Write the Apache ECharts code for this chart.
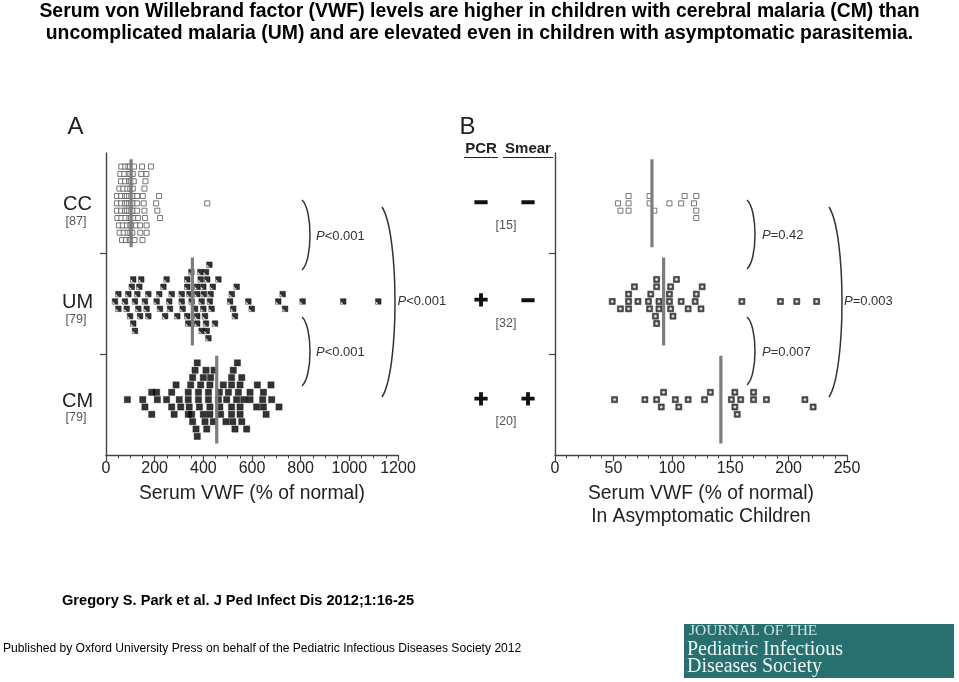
<!DOCTYPE html>
<html><head><meta charset="utf-8">
<script src="https://cdn.jsdelivr.net/npm/echarts@6/dist/echarts.min.js"></script>
<style>html,body{margin:0;padding:0;background:#fff}#c{width:959px;height:682px}</style>
</head><body><div id="c"></div>
<script>
// ---------- DATA ----------
const groupsA = ['CC', 'UM', 'CM'];
const countsA = ['[87]', '[79]', '[79]'];
const pcrB = ['−', '+', '+'];
const smearB = ['−', '−', '+'];
const countsB = ['[15]', '[32]', '[20]'];
const pA = ['<0.001', '<0.001', '<0.001'];   // CC-UM, UM-CM, CC-CM
const pB = ['=0.42', '=0.007', '=0.003'];
const medA = [103, 355, 455];
const medB = [83, 93, 142];
// beeswarm rows, listed top row to bottom row (centre row in the middle)
const aCC = [
  [63, 79, 92, 99, 115, 148, 185],
  [59, 75, 93, 100, 110, 145, 166],
  [62, 78, 95, 102, 114, 162],
  [55, 71, 88, 100, 110, 158],
  [45, 62, 78, 86, 95, 104, 111, 128, 151, 218],
  [45, 62, 78, 86, 95, 103, 111, 128, 155, 206, 416],
  [45, 62, 78, 86, 95, 104, 111, 128, 158, 211],
  [47, 63, 80, 96, 103, 115, 131, 160, 222],
  [53, 69, 86, 100, 105, 123, 140, 167],
  [56, 73, 89, 100, 108, 141, 167],
  [66, 82, 97, 101, 117, 150]
];
const aUM = [
  [425],
  [351, 388, 411],
  [112, 145, 249, 334, 389, 416, 462],
  [106, 137, 236, 334, 375, 400, 439, 537],
  [51, 92, 129, 174, 219, 270, 311, 343, 375, 402, 430, 517, 726],
  [37, 78, 119, 160, 208, 260, 311, 352, 393, 427, 510, 585, 708, 808, 975, 1119],
  [51, 85, 133, 167, 222, 263, 315, 366, 400, 434, 523, 599, 736],
  [99, 140, 174, 243, 293, 334, 375, 407, 530],
  [112, 338, 375, 411, 448],
  [119, 393, 414],
  [421]
];
const aCM = [
  [375, 540],
  [366, 411, 444, 523],
  [356, 400, 430, 516, 558],
  [288, 348, 389, 427, 482, 516, 551, 622, 678],
  [188, 208, 270, 338, 380, 421, 466, 503, 544, 592, 647],
  [88, 151, 211, 249, 301, 338, 380, 421, 462, 496, 537, 566, 592, 644, 681],
  [160, 270, 307, 342, 384, 427, 468, 516, 551, 619, 647, 711],
  [188, 280, 338, 352, 400, 427, 471, 516, 551, 658],
  [356, 407, 441, 493, 521, 558],
  [370, 414, 530, 578],
  [375]
];
const bCC = [
  [],
  [63, 81, 111, 121],
  [54, 63, 81, 98, 108, 119],
  [56, 63, 85, 121],
  [121]
];
const bUM = [
  [87, 104],
  [68, 87, 99, 126],
  [63, 82, 98, 121],
  [49, 63, 71, 80, 89, 98, 108, 120, 160, 193, 207, 224],
  [56, 63, 81, 89, 99, 114, 125],
  [86, 101],
  [87]
];
const bCM = [
  [],
  [93, 133, 154, 170],
  [51, 77, 87, 103, 114, 128, 151, 159, 170, 181, 214],
  [91, 106, 154, 221],
  [156]
];

// ---------- LAYOUT / STYLE ----------
const F = '"Liberation Sans", Arial, Helvetica, sans-serif';
const SERIF = '"Liberation Serif", "DejaVu Serif", serif';
const ROW = 0.073, HALF = 0.437;
const CENTERS = [2.5, 1.525, 0.55];

function swarm(rows, c) {
  const mid = (rows.length - 1) / 2, out = [];
  rows.forEach((r, i) => r.forEach(v => out.push([v, c - (i - mid) * ROW])));
  return out;
}
const umFill = new echarts.graphic.LinearGradient(0, 1, 1, 0, [
  {offset: 0, color: '#e8e8e8'}, {offset: 0.26, color: '#e8e8e8'},
  {offset: 0.34, color: '#000'}, {offset: 1, color: '#000'}]);
const bFill = new echarts.graphic.RadialGradient(0.5, 0.5, 0.5, [
  {offset: 0, color: '#f4f4f4'}, {offset: 0.3, color: '#bbb'},
  {offset: 0.55, color: '#222'}, {offset: 1, color: '#222'}]);

function scat(g, data, size, style) {
  return {type: 'scatter', xAxisIndex: g, yAxisIndex: g, data, symbol: 'rect',
    symbolSize: size, itemStyle: style, z: 3, silent: true};
}
function med(g, m, c) {
  return {type: 'line', xAxisIndex: g, yAxisIndex: g, data: [[m, c - HALF], [m, c + HALF]],
    symbol: 'none', lineStyle: {color: '#7d7d7d', width: 3.2}, z: 5, silent: true};
}
const axLine = {show: true, lineStyle: {color: '#444', width: 1.4}};
function xAx(g, max, interval, minorSplit, name) {
  return {type: 'value', gridIndex: g, min: 0, max, interval,
    axisLine: axLine, axisTick: {show: true, length: 6, lineStyle: {color: '#444', width: 1.2}},
    minorTick: {show: true, splitNumber: minorSplit, length: 3.5, lineStyle: {color: '#444', width: 1}},
    splitLine: {show: false}, minorSplitLine: {show: false},
    axisLabel: {fontSize: 16, color: '#222', fontFamily: F, margin: 6, formatter: v => String(v)},
    name, nameLocation: 'middle', nameGap: 27,
    nameTextStyle: {fontSize: 19.3, color: '#222', fontFamily: F, lineHeight: 23, verticalAlign: 'top'}};
}
function yAx(g) {
  return {type: 'value', gridIndex: g, min: 0, max: 3, interval: 1,
    axisLine: axLine, axisTick: {show: true, length: 6, customValues: [1, 2], lineStyle: {color: '#444', width: 1.2}},
    axisLabel: {show: false}, splitLine: {show: false}};
}

// graphic helpers
function T(x, y, text, o) {
  return {type: 'text', x, y, silent: true, style: Object.assign({text, fontFamily: F, fill: '#222',
    align: 'left', verticalAlign: 'middle'}, o || {})};
}
function bracket(x0, y0, y1, bulge) {
  const cx = x0 + bulge / 0.75, h = y1 - y0;
  return {type: 'bezierCurve', silent: true,
    shape: {x1: x0, y1: y0, x2: x0, y2: y1, cpx1: cx, cpy1: y0 + 0.14 * h, cpx2: cx, cpy2: y1 - 0.14 * h},
    style: {stroke: '#333', lineWidth: 1.5, fill: null}};
}
function pText(x, y, s) {
  return {type: 'text', x, y, silent: true, style: {text: '{i|P}{n|' + s + '}', align: 'left', verticalAlign: 'middle',
    rich: {i: {fontStyle: 'italic', fontSize: 13, fontFamily: F, fill: '#333'}, n: {fontSize: 13, fontFamily: F, fill: '#333'}}}};
}

const labY = [204, 302, 401];
const cntY = [222, 320, 418];
const graphics = [
  T(479.5, 12, 'Serum von Willebrand factor (VWF) levels are higher in children with cerebral malaria (CM) than', {align: 'center', fontWeight: 'bold', fontSize: 19.4, fill: '#000'}),
  T(479.5, 34, 'uncomplicated malaria (UM) and are elevated even in children with asymptomatic parasitemia.', {align: 'center', fontWeight: 'bold', fontSize: 19.4, fill: '#000'}),
  T(75.5, 127, 'A', {align: 'center', fontSize: 24}),
  T(467.5, 127, 'B', {align: 'center', fontSize: 24}),
  T(481, 149, 'PCR', {align: 'center', fontSize: 15, fontWeight: 'bold'}),
  T(528, 149, 'Smear', {align: 'center', fontSize: 15, fontWeight: 'bold'}),
  {type: 'line', silent: true, shape: {x1: 464, y1: 157.5, x2: 498, y2: 157.5}, style: {stroke: '#222', lineWidth: 1.2}},
  {type: 'line', silent: true, shape: {x1: 503, y1: 157.5, x2: 553, y2: 157.5}, style: {stroke: '#222', lineWidth: 1.2}},
  T(62, 601, 'Gregory S. Park et al. J Ped Infect Dis 2012;1:16-25', {fontWeight: 'bold', fontSize: 14.6, fill: '#000'}),
  T(3, 649, 'Published by Oxford University Press on behalf of the Pediatric Infectious Diseases Society 2012', {fontSize: 12.1, fill: '#000'}),
  {type: 'rect', silent: true, shape: {x: 684, y: 624, width: 270, height: 54}, style: {fill: '#27706f'}},
  T(689, 631, 'JOURNAL OF THE', {fontFamily: SERIF, fontSize: 15.5, fill: '#cde3e2'}),
  T(687, 650, 'Pediatric Infectious', {fontFamily: SERIF, fontSize: 20, fill: '#eef7f6'}),
  T(687, 667, 'Diseases Society', {fontFamily: SERIF, fontSize: 20, fill: '#eef7f6'}),
  bracket(302, 200, 270, 8), pText(316, 236, pA[0]),
  bracket(302, 317, 386, 8), pText(316, 352, pA[1]),
  bracket(382, 207, 397, 13), pText(397.5, 301, pA[2]),
  bracket(747, 200, 269, 8), pText(762, 235, pB[0]),
  bracket(747, 317, 385, 8), pText(762, 352, pB[1]),
  bracket(829, 207, 397, 13), pText(844, 301, pB[2])
];
for (let i = 0; i < 3; i++) {
  graphics.push(T(77.5, labY[i], groupsA[i], {align: 'center', fontSize: 20}));
  graphics.push(T(76, cntY[i], countsA[i], {align: 'center', fontSize: 12.5, fill: '#555'}));
  const sy = labY[i] - 1;
  graphics.push(T(481, sy, pcrB[i], {align: 'center', fontSize: 24, fontWeight: 'bold', fill: '#111', stroke: '#111', lineWidth: 1.2}));
  graphics.push(T(528, sy, smearB[i], {align: 'center', fontSize: 24, fontWeight: 'bold', fill: '#111', stroke: '#111', lineWidth: 1.2}));
  graphics.push(T(506, cntY[i] + 4, countsB[i], {align: 'center', fontSize: 12.5, fill: '#555'}));
}

const series = [
  scat(0, swarm(aCC, CENTERS[0]), 5, {color: '#fff', borderColor: '#555', borderWidth: 1}),
  scat(0, swarm(aUM, CENTERS[1]), 5.5, {color: umFill, borderColor: '#000', borderWidth: 0.6}),
  scat(0, swarm(aCM, CENTERS[2]), 6.3, {color: '#000', borderColor: '#000', borderWidth: 0.4}),
  scat(1, swarm(bCC, CENTERS[0]), 5, {color: '#fff', borderColor: '#555', borderWidth: 1}),
  scat(1, swarm(bUM, CENTERS[1]), 6, {color: bFill, borderColor: '#222', borderWidth: 0.7}),
  scat(1, swarm(bCM, CENTERS[2]), 6, {color: bFill, borderColor: '#222', borderWidth: 0.7})
];
medA.forEach((m, i) => series.push(med(0, m, CENTERS[i])));
medB.forEach((m, i) => series.push(med(1, m, CENTERS[i])));

const chart = echarts.init(document.getElementById('c'), null, {renderer: 'canvas'});
chart.setOption({
  animation: false,
  backgroundColor: '#fff',
  grid: [
    {left: 106, top: 153, width: 292, height: 302},
    {left: 555, top: 153, width: 292, height: 302}
  ],
  xAxis: [
    xAx(0, 1200, 200, 4, 'Serum VWF (% of normal)'),
    xAx(1, 250, 50, 5, 'Serum VWF (% of normal)\nIn Asymptomatic Children')
  ],
  yAxis: [yAx(0), yAx(1)],
  series,
  graphic: graphics
});
</script></body></html>
